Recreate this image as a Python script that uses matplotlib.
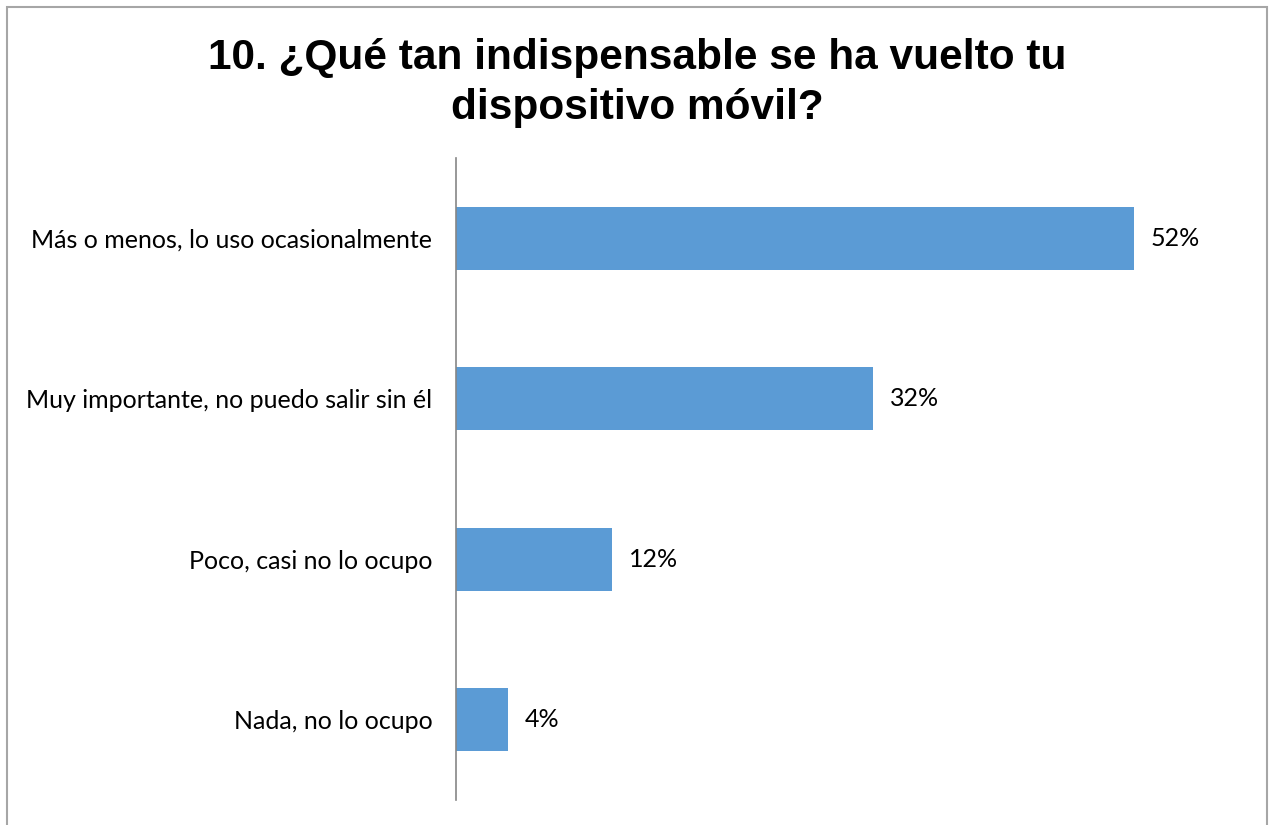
import matplotlib.pyplot as plt
from matplotlib.patches import Rectangle

categories = [
    "Más o menos, lo uso ocasionalmente",
    "Muy importante, no puedo salir sin él",
    "Poco, casi no lo ocupo",
    "Nada, no lo ocupo",
]
shares = [0.52, 0.32, 0.12, 0.04]
title = "10. ¿Qué tan indispensable se ha vuelto tu\ndispositivo móvil?"

label_font = "Lato"

fig = plt.figure(figsize=(12.69, 8.25), dpi=100)
ax = fig.add_axes([456 / 1269, 25 / 825, 782 / 1269, 642 / 825])

pos = list(range(len(categories)))
bars = ax.barh(pos, shares, height=0.39, color="#5b9bd5", edgecolor="none")

ax.set_ylim(len(categories) - 0.5, -0.5)
ax.set_xlim(0, 0.6)

for b, v in zip(bars, shares):
    ax.text(v + 0.013, b.get_y() + b.get_height() / 2, f"{v:.0%}",
            va="center", ha="left", fontsize=18, family=label_font)

ax.set_yticks(pos)
ax.set_yticklabels(categories, fontsize=18, family=label_font)
ax.tick_params(axis="y", length=0, pad=17)
ax.set_xticks([])
for side in ["top", "right", "bottom"]:
    ax.spines[side].set_visible(False)
ax.spines["left"].set_color("#868686")
ax.spines["left"].set_linewidth(1.2)

fig.text(0.5025, 1 - 83 / 825, title, ha="center", va="center",
         fontsize=30.5, fontweight="bold", family="Liberation Sans",
         linespacing=1.3)

# chart frame
fig.patches.append(Rectangle((7 / 1269, -0.01), 1260 / 1269, 1 - 7 / 825 + 0.01,
                             transform=fig.transFigure, fill=False,
                             edgecolor="#a6a6a6", linewidth=1.5))

fig.savefig("out.png", dpi=100)
